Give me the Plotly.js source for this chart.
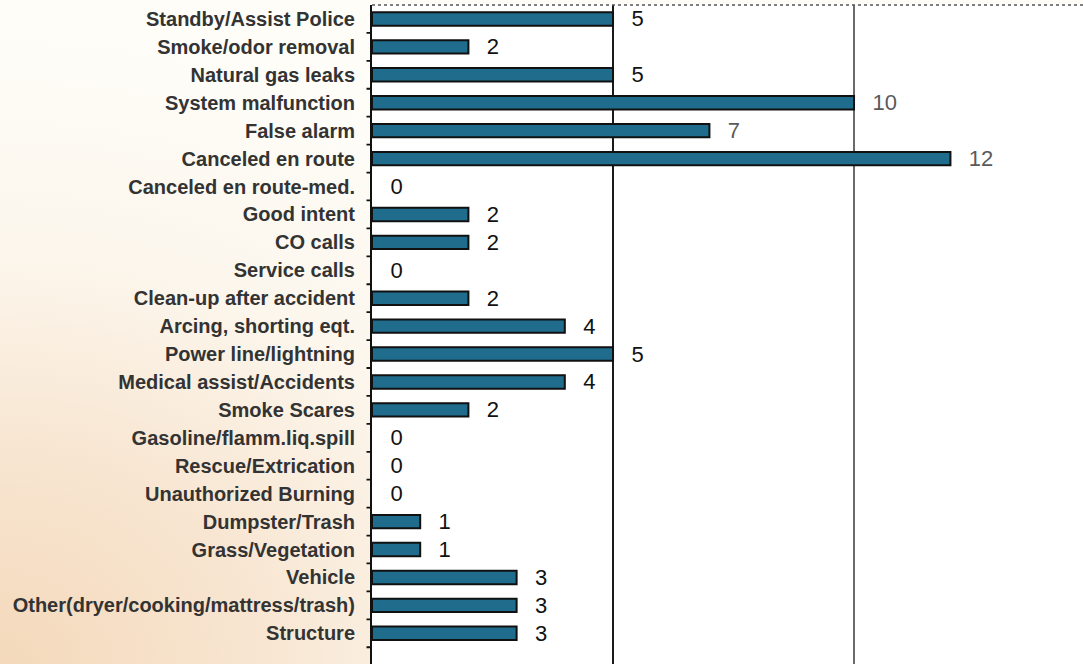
<!DOCTYPE html>
<html>
<head>
<meta charset="utf-8">
<script src="https://cdn.plot.ly/plotly-3.0.1.min.js"></script>
<style>
  html, body { margin: 0; padding: 0; width: 1083px; height: 664px; overflow: hidden; }
  body { background: radial-gradient(ellipse 70% 95% at 0% 100%, #f4d9bb 0%, #f8e6d2 35%, #fcf6ec 65%, #fefdf8 100%); }
  #chart { width: 1083px; height: 664px; }
</style>
</head>
<body>
<div id="chart"></div>
<script>
const categories = [
  "Standby/Assist Police",
  "Smoke/odor removal",
  "Natural gas leaks",
  "System malfunction",
  "False alarm",
  "Canceled en route",
  "Canceled en route-med.",
  "Good intent",
  "CO calls",
  "Service calls",
  "Clean-up after accident",
  "Arcing, shorting eqt.",
  "Power line/lightning",
  "Medical assist/Accidents",
  "Smoke Scares",
  "Gasoline/flamm.liq.spill",
  "Rescue/Extrication",
  "Unauthorized Burning",
  "Dumpster/Trash",
  "Grass/Vegetation",
  "Vehicle",
  "Other(dryer/cooking/mattress/trash)",
  "Structure"
];
const values = [5, 2, 5, 10, 7, 12, 0, 2, 2, 0, 2, 4, 5, 4, 2, 0, 0, 0, 1, 1, 3, 3, 3];
const darkGridTicks = [5];
const greyGridTicks = [10];
const xRange = [0, 14.75];
const yRange = [23.1, -0.5];

const rowIndex = categories.map((c, i) => i);
// boundaries between category rows, for the small tick marks
const boundaryTicks = categories.map((c, i) => i + 0.5);

const trace = {
  type: 'bar',
  orientation: 'h',
  y: rowIndex,
  x: values,
  width: 0.48,
  marker: {
    color: '#1f6c8c',
    line: { color: '#111111', width: values.map(v => v > 0 ? 2 : 0) }
  },
  text: values.map(v => '\u2002\u2009' + String(v)),
  textposition: 'outside',
  constraintext: 'none',
  cliponaxis: false,
  textfont: {
    family: 'Liberation Sans, Arial, sans-serif',
    size: 22,
    color: values.map(v => v >= 7 ? '#5a5a5a' : '#111111')
  },
  hoverinfo: 'none'
};

const gridTrace = { type: 'scatter', mode: 'markers', x: [], y: [], xaxis: 'x2', yaxis: 'y', hoverinfo: 'none', showlegend: false };

// small outward tick marks on the category axis, drawn as arrow-only annotations
const tickMarks = boundaryTicks.map(b => ({
  x: 0, y: b, xref: 'x', yref: 'y',
  text: '', showarrow: true, arrowhead: 0, arrowwidth: 1.8, arrowcolor: '#111111',
  ax: -7, ay: 0, axref: 'pixel', ayref: 'pixel', standoff: 1, startstandoff: 0
}));

const layout = {
  width: 1083,
  height: 664,
  margin: { l: 372, r: 0, t: 5, b: 0, pad: 0 },
  paper_bgcolor: 'rgba(0,0,0,0)',
  plot_bgcolor: '#ffffff',
  showlegend: false,
  xaxis: {
    range: xRange,
    tickvals: darkGridTicks,
    showticklabels: false,
    showgrid: true,
    gridcolor: '#1a1a1a',
    gridwidth: 1.5,
    zeroline: false,
    showline: false,
    ticks: '',
    fixedrange: true
  },
  xaxis2: {
    overlaying: 'x',
    side: 'bottom',
    range: xRange,
    tickvals: greyGridTicks,
    showticklabels: false,
    showgrid: true,
    gridcolor: '#6a6a6a',
    gridwidth: 2,
    zeroline: false,
    showline: false,
    ticks: '',
    fixedrange: true
  },
  yaxis: {
    type: 'linear',
    range: yRange,
    tickvals: rowIndex,
    ticktext: categories,
    showline: true,
    linecolor: '#111111',
    linewidth: 2,
    ticks: '',
    ticklabelstandoff: 11,
    tickfont: { family: 'Liberation Sans, Arial, sans-serif', size: 20, color: '#333333', weight: 'bold' },
    showgrid: false,
    zeroline: false,
    fixedrange: true
  },
  annotations: tickMarks,
  shapes: [{
    type: 'line', xref: 'paper', yref: 'paper', x0: 0, x1: 1, y0: 1, y1: 1,
    line: { color: '#555555', width: 1.5, dash: 'dot' }
  }]
};

Plotly.newPlot('chart', [gridTrace, trace], layout, { displayModeBar: false, staticPlot: true });
</script>
</body>
</html>
